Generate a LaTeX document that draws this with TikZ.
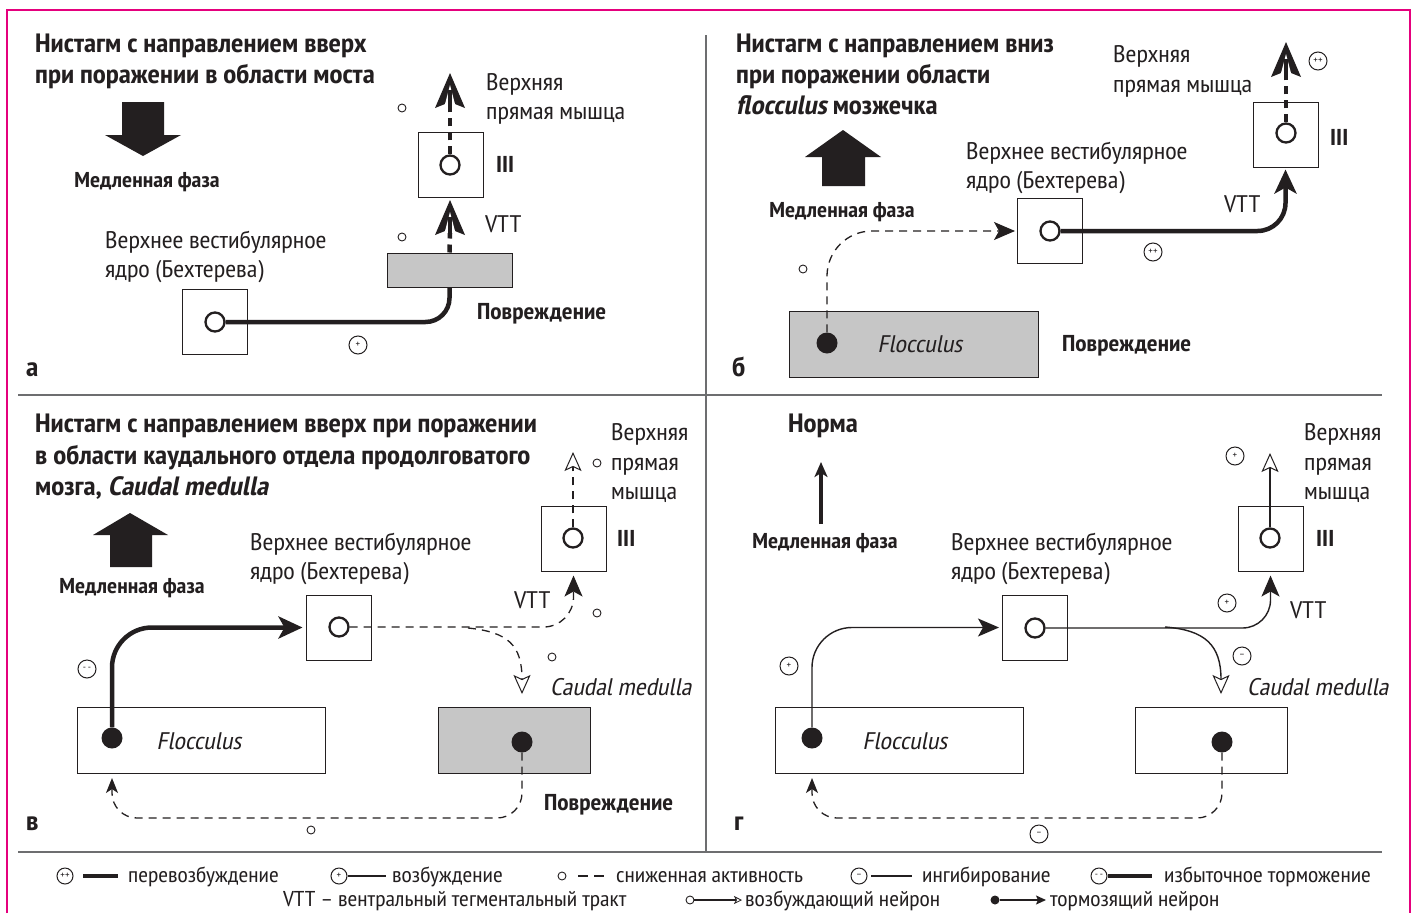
\documentclass[tikz,border=0pt]{standalone}
\usepackage{fontspec}
\setmainfont{PT Sans Narrow}[FakeStretch=1.1, ItalicFont=PT Sans Narrow, ItalicFeatures={FakeSlant=0.2}, BoldItalicFont=PT Sans Narrow/B, BoldItalicFeatures={FakeSlant=0.2}]
\usetikzlibrary{arrows.meta}
\definecolor{mag}{HTML}{E5007D}
\definecolor{lgray}{HTML}{C6C6C6}
\definecolor{txt}{HTML}{231F20}
\definecolor{gridc}{HTML}{6D6E70}
\newcommand\bodyf{\fontsize{24}{29}\selectfont}
\newcommand\boldf{\fontsize{23}{29}\selectfont\bfseries}
\newcommand\titf{\fontsize{26.5}{31}\selectfont\bfseries}
\newcommand\legf{\fontsize{21.5}{22}\selectfont}
\newcommand\phf{\fontsize{21.5}{22}\selectfont\bfseries}
\newcommand\letf{\fontsize{27}{29}\selectfont\bfseries}
\tikzset{
  lbl/.style={font=\bodyf, anchor=base west, text=txt, inner sep=0pt},
  blbl/.style={font=\boldf, anchor=base west, text=txt, inner sep=0pt},
  letter/.style={font=\letf, anchor=base west, text=txt, inner sep=0pt},
  tit/.style={font=\titf, anchor=base west, text=txt, inner sep=0pt},
  phase/.style={font=\phf, anchor=base, text=txt, inner sep=0pt},
  leg/.style={font=\legf, anchor=base west, text=txt, inner sep=0pt},
  ital/.style={font=\bodyf\itshape, text=txt, inner sep=0pt},
  nbox/.style={draw=txt, line width=1pt, minimum width=65pt, minimum height=65pt, inner sep=0pt, fill=white},
  gbox/.style={draw=txt, line width=1pt, fill=lgray, inner sep=0pt},
  wbox/.style={draw=txt, line width=1pt, fill=white, inner sep=0pt},
  neur/.style={circle, draw=txt, line width=2.3pt, minimum size=19pt, inner sep=0pt, fill=white},
  inh/.style={circle, fill=txt, minimum size=21pt, inner sep=0pt},
  smallo/.style={circle, draw=txt, line width=0.9pt, minimum size=8pt, inner sep=0pt},
  sign/.style={circle, draw=txt, line width=1pt, minimum size=18pt, inner sep=0pt, font=\fontsize{10}{10}\selectfont, text=txt},
  thickline/.style={draw=txt, line width=4.5pt},
  tdash/.style={draw=txt, line width=4.5pt, dash pattern=on 8pt off 6pt},
  thindash/.style={draw=txt, line width=1.3pt, dash pattern=on 8pt off 6pt},
  thinline/.style={draw=txt, line width=1.4pt},
  bigtip/.style={-{Stealth[length=24pt, width=22pt, inset=6pt]}},
  midtip/.style={-{Stealth[length=21pt, width=18pt, inset=5pt]}},
  smalltip/.style={-{Stealth[length=15pt, width=12pt, inset=4pt]}},
  opentip/.style={-{Stealth[length=19pt, width=17pt, inset=4pt, fill=white, line width=1pt]}},
  Ahead/.pic={
    \fill[txt] (0,0) -- (15,35) -- (0,29) -- (-15,35) -- cycle;
    \fill[white] (0,12) -- (5.5,33) -- (0,30.5) -- (-5.5,33) -- cycle;
    \draw[txt, line width=4.5pt] (0,36) -- (0,17);
  }
}
\begin{document}
\begin{tikzpicture}[x=1pt,y=-1pt]
\fill[white] (0,0) rectangle (1416,913);
\useasboundingbox (0,0) rectangle (1416,913);
% frame and grid
\draw[mag, line width=2pt] (7,913) -- (7,10) -- (1410,10) -- (1410,913);
\draw[gridc, line width=2pt] (18,395) -- (1382,395);
\draw[gridc, line width=2pt] (706,35) -- (706,852);
\draw[gridc, line width=2pt] (18,852) -- (1382,852);

%================ panel a
\node[tit] (ta1) at (35,52) {Нистагм с направлением вверх};
\node[tit] (ta2) at (35,83) {при поражении в области моста};
\fill[txt] (122,102) -- (164,102) -- (164,135) -- (181,135) -- (143,156) -- (105,135) -- (122,135) -- cycle;
\node[phase] (pha) at (147,187) {Медленная фаза};
\node[nbox] (b3a) at (450.5,165) {};
\node[neur] (n3a) at (450,165) {};
\node[blbl] (l3a) at (496,172) {III};
\pic at (450,73) {Ahead};
\coordinate (ta) at (450,105);
\draw[tdash] (n3a.north) -- (ta);
\node[gbox, minimum width=125pt, minimum height=34pt] (dma) at (449.5,270) {};
\pic at (450,200) {Ahead};
\coordinate (tb) at (450,233);
\draw[tdash] (dma.north) -- (tb);
\node[nbox] (bva) at (215,322) {};
\node[neur] (nva) at (215,322) {};
\draw[thickline, rounded corners=24pt] (dma.south) |- (nva.east);
\node[sign] (sa1) at (358,345) {+};
\node[smallo] (oa1) at (402,108) {};
\node[smallo] (oa2) at (402,237) {};
\node[lbl] (va1) at (486,90) {Верхняя};
\node[lbl] (va2) at (486,119) {прямая мышца};
\node[lbl] (vtta) at (485,232) {VTT};
\node[lbl] (ya1) at (105,248) {Верхнее вестибулярное};
\node[lbl] (ya2) at (105,277) {ядро (Бехтерева)};
\node[blbl] (pova) at (477,319) {Повреждение};
\node[letter] (la) at (26,376) {а};

%================ panel b
\node[tit] (tb1) at (736,52) {Нистагм с направлением вниз};
\node[tit] (tb2) at (736,83) {при поражении области};
\node[tit] (tb3) at (736,114) {\textit{flocculus} мозжечка};
\fill[txt] (843,130) -- (881,157) -- (865,157) -- (865,186) -- (822,186) -- (822,157) -- (805,157) -- cycle;
\node[phase] (phb) at (842,217) {Медленная фаза};
\node[lbl] (yb1) at (966,159) {Верхнее вестибулярное};
\node[lbl] (yb2) at (966,188) {ядро (Бехтерева)};
\node[nbox] (bvb) at (1050,231) {};
\node[neur] (nvb) at (1050,231) {};
\node[nbox] (b3b) at (1285.5,134.5) {};
\node[neur] (n3b) at (1286,133) {};
\node[blbl] (l3b) at (1330,145) {III};
\draw[thickline, bigtip, rounded corners=28pt, shorten >=2pt] (nvb.east) -| (b3b.south);
\pic at (1286,42) {Ahead};
\coordinate (tc) at (1286,75);
\draw[tdash] (n3b.north) -- (tc);
\node[sign] (sb1) at (1318,61) {++};
\node[sign] (sb2) at (1153,252) {++};
\node[lbl] (vttb) at (1224,212) {VTT};
\node[lbl] (vb1) at (1113,62) {Верхняя};
\node[lbl] (vb2) at (1113,92) {прямая мышца};
\node[gbox, minimum width=249pt, minimum height=66pt] (flb) at (913.5,344) {};
\node[inh] (db) at (827,343) {};
\node[ital] (flbt) at (920,344) {Flocculus};
\draw[thindash, midtip, rounded corners=45pt, shorten >=2pt] (db.north) |- (bvb.west);
\node[smallo] (ob1) at (803,269) {};
\node[blbl] (povb) at (1062,351) {Повреждение};
\node[letter] (lb) at (732,376) {б};

%================ panel c
\node[tit] (tc1) at (35,432) {Нистагм с направлением вверх при поражении};
\node[tit] (tc2) at (35,464) {в области каудального отдела продолговатого};
\node[tit] (tc3) at (35,495) {мозга, \textit{Caudal medulla}};
\fill[txt] (130,513) -- (168,535) -- (152,535) -- (152,567) -- (110,567) -- (110,535) -- (93,535) -- cycle;
\node[phase] (phc) at (132,593) {Медленная фаза};
\node[lbl] (yc1) at (250,550) {Верхнее вестибулярное};
\node[lbl] (yc2) at (250,579) {ядро (Бехтерева)};
\node[nbox] (bvc) at (338.5,627.5) {};
\node[neur] (nvc) at (339,627) {};
\node[wbox, minimum width=248pt, minimum height=66pt] (flc) at (201,740) {};
\node[inh] (dc) at (112,738) {};
\node[ital] (flct) at (199,741) {Flocculus};
\node[gbox, minimum width=152pt, minimum height=66pt] (cmc) at (514,740) {};
\node[inh] (dcm) at (522,742) {};
\node[nbox] (b3c) at (573.5,538.5) {};
\node[neur] (n3c) at (573,538) {};
\node[blbl] (l3c) at (617,546) {III};
\draw[thickline, bigtip, rounded corners=40pt, shorten >=3pt] (dc.north) |- (bvc.west);
\draw[thindash, midtip, rounded corners=30pt, shorten >=4pt] (nvc.east) -| (b3c.south);
\coordinate (brc) at (468,628);
\coordinate (ec) at (522,694);
\draw[thindash, opentip] (brc) .. controls (508,632) and (522,645) .. (ec);
\coordinate (tpc) at (573,452);
\draw[thindash, opentip] (n3c.north) -- (tpc);
\coordinate (lc) at (112,778);
\draw[thindash, smalltip, rounded corners=25pt] (dcm.south) -- (522,818) -- (112,818) -- (lc);
\node[sign] (sc1) at (87,669) {-\,-};
\node[smallo] (oc1) at (597,463) {};
\node[smallo] (oc2) at (597,613) {};
\node[smallo] (oc3) at (552,657) {};
\node[smallo] (oc4) at (311,830) {};
\node[lbl] (vc1) at (611,440) {Верхняя};
\node[lbl] (vc2) at (611,470) {прямая};
\node[lbl] (vc3) at (611,499) {мышца};
\node[lbl] (vttc) at (514,608) {VTT};
\node[lbl, font=\bodyf\itshape] (cmct) at (550,695) {Caudal medulla};
\node[blbl] (povc) at (544,810) {Повреждение};
\node[letter] (lc2) at (26,830) {в};

%================ panel d
\node[tit] (td1) at (788,432) {Норма};
\coordinate (nd0) at (821,524);
\coordinate (nd1) at (821,462);
\draw[txt, line width=3.5pt, -{Stealth[length=15pt, width=13pt, inset=4pt]}] (nd0) -- (nd1);
\node[phase] (phd) at (825,548) {Медленная фаза};
\node[lbl] (yd1) at (951,550) {Верхнее вестибулярное};
\node[lbl] (yd2) at (951,579) {ядро (Бехтерева)};
\node[nbox] (bvd) at (1035,627.5) {};
\node[neur] (nvd) at (1035,628) {};
\node[wbox, minimum width=248pt, minimum height=66pt] (fld) at (899,740) {};
\node[inh] (dd) at (812,738) {};
\node[ital] (fldt) at (905,741) {Flocculus};
\node[wbox, minimum width=152pt, minimum height=66pt] (cmd) at (1211,740) {};
\node[inh] (dcd) at (1222,742) {};
\node[nbox] (b3d) at (1270.5,538.5) {};
\node[neur] (n3d) at (1270,538) {};
\node[blbl] (l3d) at (1316,546) {III};
\draw[thinline, midtip, rounded corners=40pt, shorten >=3pt] (dd.north) |- (bvd.west);
\draw[thinline, midtip, rounded corners=28pt, shorten >=4pt] (nvd.east) -| (b3d.south);
\coordinate (brd) at (1165,627);
\coordinate (ed) at (1221,694);
\draw[thinline, opentip] (brd) .. controls (1205,630) and (1221,645) .. (ed);
\coordinate (tpd) at (1270,453);
\draw[thinline, opentip] (n3d.north) -- (tpd);
\coordinate (ld) at (812,778);
\draw[thindash, smalltip, rounded corners=25pt] (dcd.south) -- (1222,818) -- (812,818) -- (ld);
\node[sign] (sd1) at (789,666) {+};
\node[sign] (sd2) at (1235,456) {+};
\node[sign] (sd3) at (1227,603) {+};
\node[sign] (sd4) at (1242,656) {--};
\node[sign] (sd5) at (1039,834) {--};
\node[lbl] (vd1) at (1304,440) {Верхняя};
\node[lbl] (vd2) at (1304,470) {прямая};
\node[lbl] (vd3) at (1304,499) {мышца};
\node[lbl] (vttd) at (1290,618) {VTT};
\node[lbl, font=\bodyf\itshape] (cmdt) at (1247,695) {Caudal medulla};
\node[letter] (ldd) at (734,830) {г};

%================ legend
\node[sign, minimum size=16pt] (g1) at (65,876) {++};
\coordinate (g1a) at (83,876); \coordinate (g1b) at (118,876);
\draw[thickline] (g1a) -- (g1b);
\node[leg] (g1t) at (128,882) {перевозбуждение};
\node[sign, minimum size=16pt] (g2) at (339,876) {+};
\coordinate (g2b) at (386,876);
\draw[thinline] (g2.east) -- (g2b);
\node[leg] (g2t) at (392,882) {возбуждение};
\node[smallo] (g3) at (562,876) {};
\coordinate (g3a) at (578,876); \coordinate (g3b) at (604,876);
\draw[thinline, dash pattern=on 10pt off 6pt] (g3a) -- (g3b);
\node[leg] (g3t) at (616,882) {сниженная активность};
\node[sign, minimum size=16pt] (g4) at (859,876) {--};
\coordinate (g4a) at (871,876); \coordinate (g4b) at (912,876);
\draw[thinline] (g4a) -- (g4b);
\node[leg] (g4t) at (922,882) {ингибирование};
\node[sign, minimum size=16pt] (g5) at (1099,876) {-\,-};
\coordinate (g5b) at (1152,876);
\draw[thickline] (g5.east) -- (g5b);
\node[leg] (g5t) at (1164,882) {избыточное торможение};
\node[leg] (g6t) at (283,906) {VTT – вентральный тегментальный тракт};
\node[smallo] (g7) at (690,900) {};
\coordinate (g7b) at (742,900);
\draw[thinline, -{Stealth[length=8pt, width=8pt, inset=2pt, fill=white, line width=0.8pt]}] (g7.east) -- (g7b);
\node[leg] (g7t) at (745,906) {возбуждающий нейрон};
\node[circle, fill=txt, minimum size=9pt, inner sep=0pt] (g8) at (995,900) {};
\coordinate (g8b) at (1046,900);
\draw[thinline, -{Stealth[length=10pt, width=9pt, inset=2pt]}] (g8.east) -- (g8b);
\node[leg] (g8t) at (1050,906) {тормозящий нейрон};
\end{tikzpicture}
\end{document}
